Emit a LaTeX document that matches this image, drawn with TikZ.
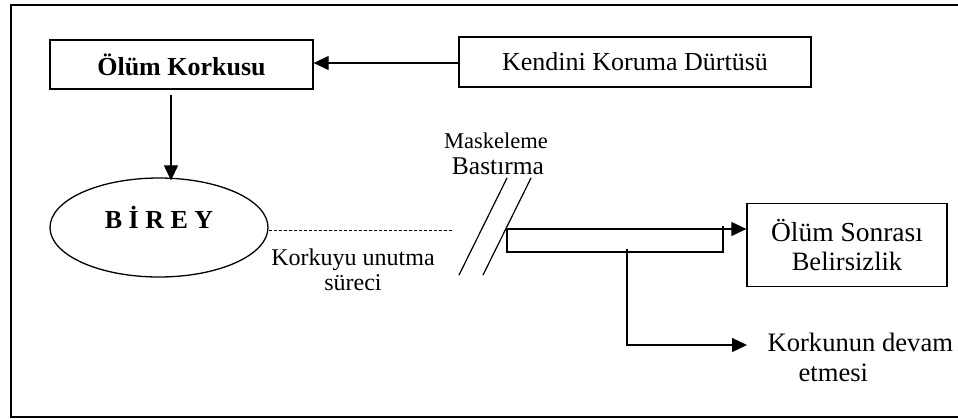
\documentclass[tikz,border=0pt]{standalone}
\usepackage{fontspec}
\setmainfont{Liberation Serif}
\usetikzlibrary{arrows.meta,shapes.geometric}
\begin{document}
\begin{tikzpicture}[x=1pt,y=-1pt,
  line width=1.2pt,
  boxnode/.style={draw,rectangle,inner sep=0pt,line width=1.3pt},
  arr/.style={-{Triangle[length=15pt,width=14pt]}},
  plain/.style={inner sep=0pt,align=center}]
\useasboundingbox (0,0) rectangle (958,418);
% frame (right side outside the picture)
\draw[line width=1.8pt] (970,5) -- (11,5) -- (11,417) -- (970,417);
% nodes
\node[boxnode,minimum width=263pt,minimum height=49pt,
  font=\fontsize{26}{28}\selectfont\bfseries] (ok) at (181.5,64.5) {Ölüm Korkusu};
\node[boxnode,minimum width=352pt,minimum height=50pt,
  font=\fontsize{26}{28}\selectfont] (kk) at (635,62) {Kendini Koruma Dürtüsü};
\node[draw,ellipse,inner sep=0pt,minimum width=218pt,minimum height=99pt,line width=1.3pt,
  font=\fontsize{26}{28}\selectfont\bfseries] (birey) at (159,227.5)
  {\raisebox{20pt}{B İ R E Y}};
\node[boxnode,minimum width=200pt,minimum height=83pt,align=center,
  font=\fontsize{26.5}{29}\selectfont] (os) at (847,245)
  {\fontsize{27.5}{29}\selectfont Ölüm Sonrası\\Belirsizlik};
\node[plain,anchor=base west,align=left,
  font=\fontsize{26.6}{30}\selectfont] (kd) at (767,381)
  {Korkunun devam\\\hspace*{31pt}etmesi};
\node[plain,anchor=base,font=\fontsize{24}{25}\selectfont] (ku) at (353,290)
  {Korkuyu unutma\\süreci};
\node[plain,anchor=base,font=\fontsize{22.5}{24}\selectfont] (mask) at (496,148)
  {Maskeleme};
\node[plain,anchor=base,font=\fontsize{25.5}{27}\selectfont] (bast) at (498,174)
  {Bastırma};
% coordinates
\coordinate (dend) at (453,230);
\coordinate (s1a) at (507,178);
\coordinate (s1b) at (459,275);
\coordinate (s2a) at (531,178);
\coordinate (s2b) at (483,275);
\coordinate (b0) at (507,229);
\coordinate (b1) at (507,252);
\coordinate (b2) at (723,252);
\coordinate (b3) at (723,226);
\coordinate (v0) at (627,249);
\coordinate (kdtip) at (747,345);
% connectors
\draw[arr] (kk.west |- 0,63) -- (ok.east |- 0,63);
\draw[arr] (171,95) -- ([xshift=12pt,yshift=-3pt]birey.north);
\draw[line width=0.9pt,dash pattern=on 3pt off 2pt] (birey.east |- dend) -- (dend);
\draw (s1a) -- (s1b);
\draw (s2a) -- (s2b);
\draw[arr] (b0) -- (os.west |- b0);
\draw (b0) -- (b1) -- (b2) -- (b3);
\draw[arr] (v0) |- (kdtip);
\end{tikzpicture}
\end{document}
